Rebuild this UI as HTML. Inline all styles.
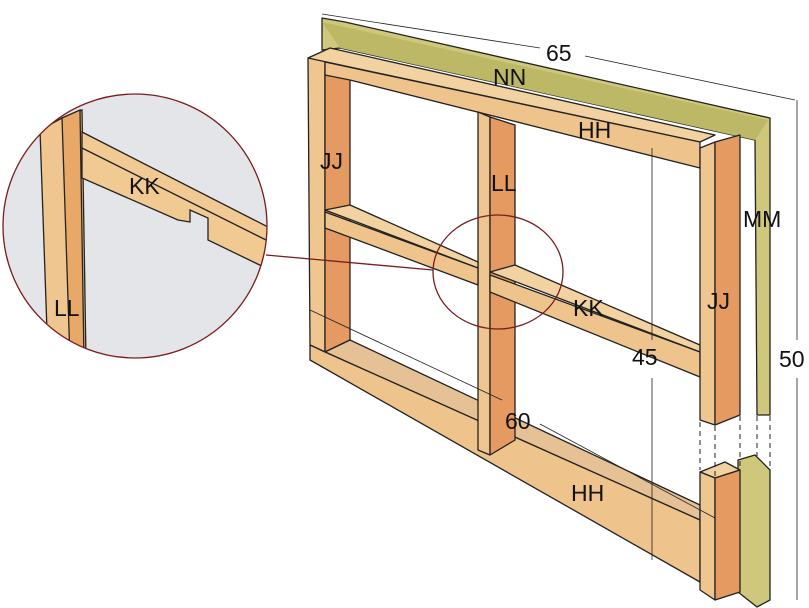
<!DOCTYPE html>
<html><head><meta charset="utf-8"><style>
html,body{margin:0;padding:0;background:#fff;}
svg{display:block;}
text{font-family:"Liberation Sans",sans-serif;font-size:23px;fill:#111;}
</style></head><body>
<svg width="809" height="608" viewBox="0 0 809 608" xmlns="http://www.w3.org/2000/svg">
<g stroke="#222" stroke-width="1.3" stroke-linejoin="round">
<polygon points="322,18 345,22 770,118 770,415 757,415 755,140 340,48 322,50" fill="#cfc77c"/>
<polygon points="322,22 340,48 755,140 768,120" fill="#bdb865" stroke="none"/>
<polygon points="738,460 755,455 770,470 770,600 757,607 738,592" fill="#cfc77c"/>
<polygon points="308,58 325,55 325,352 310,345" fill="#f0c690"/>
<polygon points="325,72 350,78 350,340 325,352" fill="#e49a60"/>
<polygon points="308,58 330,48 715,135 700,142" fill="#f3d2a2"/>
<polygon points="325,62 700,142 700,168 350,80 325,75" fill="#efc48c"/>
<polygon points="325,352 350,340 700,505 700,520" fill="#e5c195"/>
<polygon points="310,345 325,352 700,520 700,582 310,360" fill="#efc48c"/>
<polygon points="478,112 490,117 490,455 478,450" fill="#f0c690"/>
<polygon points="490,117 515,125 515,440 490,455" fill="#e49a60"/>
<polygon points="325,210 350,205 478,262 478,268" fill="#f3d2a2"/>
<polygon points="325,212 478,268 478,285 325,228" fill="#efc48c"/>
<polygon points="490,272 515,265 700,345 700,352" fill="#f3d2a2"/>
<polygon points="490,275 700,352 700,377 490,292" fill="#efc48c"/>
<polygon points="700,148 715,142 715,425 700,420" fill="#f0c690"/>
<polygon points="715,142 740,135 740,415 715,425" fill="#e49a60"/>
<polygon points="700,472 725,462 740,470 715,478" fill="#f3d2a2"/>
<polygon points="700,472 715,478 715,600 700,590" fill="#f0c690"/>
<polygon points="715,478 740,470 740,592 715,600" fill="#e49a60"/>
</g>
<g stroke="#222" stroke-width="1" stroke-dasharray="5,4">
<line x1="700" y1="422" x2="700" y2="470"/><line x1="715" y1="426" x2="715" y2="478"/>
<line x1="740" y1="416" x2="740" y2="468"/><line x1="757" y1="416" x2="757" y2="456"/><line x1="770" y1="416" x2="770" y2="468"/>
</g>
<g stroke="#222" stroke-width="0.8" fill="none">
<line x1="322" y1="14" x2="540" y2="48"/><line x1="585" y1="56" x2="795" y2="100"/>
<line x1="797" y1="100" x2="797" y2="340"/><line x1="797" y1="378" x2="797" y2="600"/>
<line x1="652" y1="148" x2="652" y2="340"/><line x1="652" y1="378" x2="652" y2="560"/>
<line x1="310" y1="310" x2="502" y2="400"/><line x1="540" y1="424" x2="715" y2="518"/>
</g>
<text x="546" y="61">65</text>
<text x="493" y="85">NN</text>
<text x="578" y="138">HH</text>
<text x="320" y="169">JJ</text>
<text x="491" y="191">LL</text>
<text x="743" y="227">MM</text>
<text x="573" y="316">KK</text>
<text x="707" y="309">JJ</text>
<text x="779" y="367">50</text>
<text x="632" y="365">45</text>
<text x="505" y="429">60</text>
<text x="571" y="501">HH</text>
<ellipse cx="498" cy="272" rx="65" ry="57" fill="none" stroke="#7a1c1c" stroke-width="1.3"/>
<line x1="266" y1="255" x2="433" y2="270" stroke="#7a1c1c" stroke-width="1.3"/>
<defs><clipPath id="c"><circle cx="135" cy="226" r="132"/></clipPath></defs>
<circle cx="135" cy="226" r="132" fill="#e3e5e8"/>
<g clip-path="url(#c)" stroke="#222" stroke-width="1.3">
<polygon points="40,130 62,118 82,110 86,360 68,360 48,360" fill="#f0c690"/>
<polygon points="62,118 80,110 84,360 70,360" fill="#e8a868"/>
<polygon points="82,132 270,228 270,270 208,240 208,218 190,210 190,222 178,220 178,220 82,178" fill="#f1c993"/>
<line x1="82" y1="148" x2="270" y2="242"/>
</g>
<circle cx="135" cy="226" r="132" fill="none" stroke="#7a1c1c" stroke-width="1.3"/>
<text x="129" y="194">KK</text>
<text x="54" y="316">LL</text>
</svg>
</body></html>
